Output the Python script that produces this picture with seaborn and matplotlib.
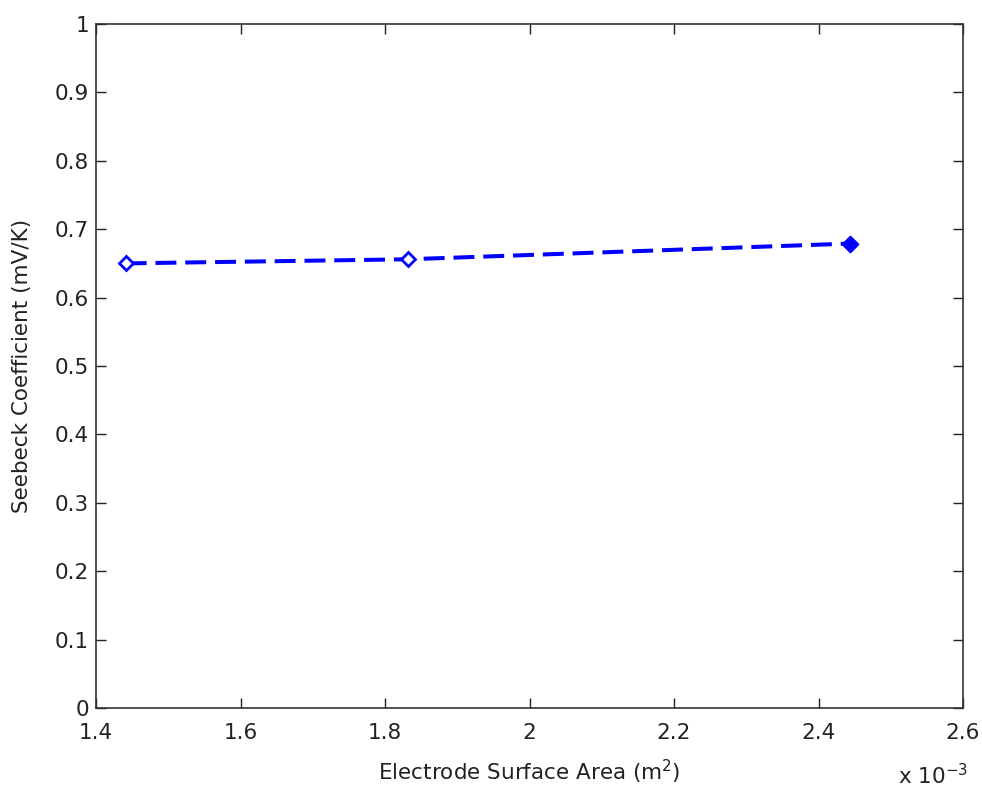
import matplotlib
matplotlib.use("Agg")
import matplotlib.pyplot as plt
import numpy as np
import pandas as pd
import seaborn as sns

# data (x in units of 1e-3 m^2)
area = [1.441, 1.832, 2.444]
seebeck = [0.650, 0.656, 0.679]
xticks = [1.4, 1.6, 1.8, 2.0, 2.2, 2.4, 2.6]
xtick_labels = ["1.4", "1.6", "1.8", "2", "2.2", "2.4", "2.6"]
yticks = [0, 0.1, 0.2, 0.3, 0.4, 0.5, 0.6, 0.7, 0.8, 0.9, 1]
ytick_labels = ["0", "0.1", "0.2", "0.3", "0.4", "0.5", "0.6", "0.7", "0.8", "0.9", "1"]

sns.set_style("white")
plt.rcParams["font.family"] = ["DejaVu Sans"]

df = pd.DataFrame({"area": area, "seebeck": seebeck})

fig = plt.figure(figsize=(9.82, 7.89), dpi=100)
ax = fig.add_axes([0.0978, 0.1027, 0.8829, 0.8669])

sns.lineplot(data=df, x="area", y="seebeck", ax=ax, color="#0000ff",
             linewidth=2.9, linestyle=(0, (5.2, 2.2)), marker="D",
             markersize=7.5, markerfacecolor="white", markeredgecolor="#0000ff",
             markeredgewidth=2)
# last point drawn filled
ax.plot(area[-1:], seebeck[-1:], marker="D", markersize=8, color="#0000ff",
        linestyle="none")

ax.set_xlim(1.4, 2.6)
ax.set_ylim(0, 1)
ax.set_xticks(xticks)
ax.set_xticklabels(xtick_labels)
ax.set_yticks(yticks)
ax.set_yticklabels(ytick_labels)

ax.tick_params(direction="in", length=7, width=1, top=True, right=True,
               bottom=True, left=True, labelsize=15.5, colors="#222222")
ax.tick_params(axis="x", pad=11)
ax.tick_params(axis="y", pad=5)
for side in ["top", "right", "bottom", "left"]:
    ax.spines[side].set_visible(True)
    ax.spines[side].set_color("#333333")
    ax.spines[side].set_linewidth(1.2)

ax.set_xlabel("Electrode Surface Area (m$^2$)", fontsize=15.5, color="#222222")
ax.set_ylabel("Seebeck Coefficient (mV/K)", fontsize=15.5, color="#222222")
ax.xaxis.label.set_va("center")
ax.yaxis.label.set_va("center")
ax.xaxis.set_label_coords(0.5, -0.094)
ax.yaxis.set_label_coords(-0.085, 0.5)

fig.text(0.914, 0.006, "x 10$^{-3}$", fontsize=15.5, color="#222222",
         va="baseline")

fig.savefig("out.png", dpi=100, facecolor="white")
